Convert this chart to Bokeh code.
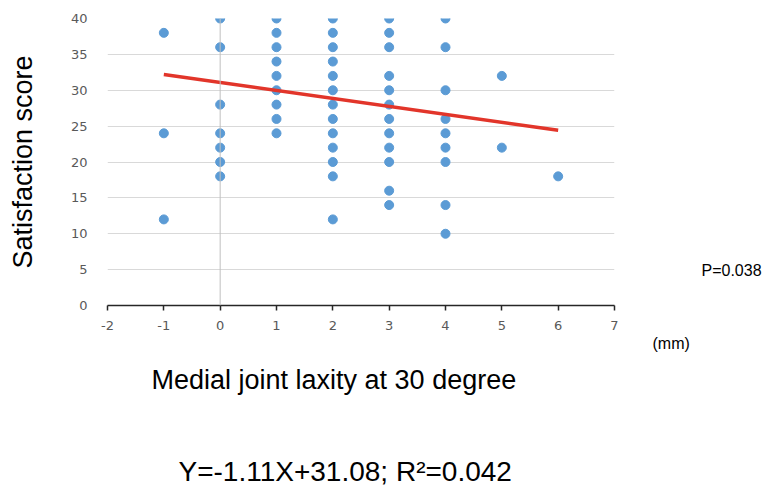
import math
from bokeh.plotting import figure
from bokeh.models import Range1d, Span, FixedTicker, ColumnDataSource, Title, LinearAxis
from bokeh.embed import file_html
from bokeh.resources import INLINE

# ---- data ----
laxity_mm = (
    [-1, -1, -1]
    + [0] * 7
    + [1] * 9
    + [2] * 13
    + [3] * 12
    + [4] * 9
    + [5, 5]
    + [6]
)
satisfaction = (
    [38, 24, 12]
    + [40, 36, 28, 24, 22, 20, 18]
    + [40, 38, 36, 34, 32, 30, 28, 26, 24]
    + [40, 38, 36, 34, 32, 30, 28, 26, 24, 22, 20, 18, 12]
    + [40, 38, 36, 32, 30, 28, 26, 24, 22, 20, 16, 14]
    + [40, 36, 30, 26, 24, 22, 20, 14, 10]
    + [32, 22]
    + [18]
)
slope = -1.11
intercept = 31.08
trend_x = [-1, 6]
trend_y = [slope * x + intercept for x in trend_x]

x_ticks = [-2, -1, 0, 1, 2, 3, 4, 5, 6, 7]
y_ticks = [0, 5, 10, 15, 20, 25, 30, 35, 40]
p_value_text = "P=0.038"
p_value_y = 4.9

# ---- figure ----
W, H = 768, 492
ML, MT = 107, 18
MR, MB = W - 614, H - 305
p = figure(width=W, height=H, output_backend="svg", toolbar_location=None,
           x_range=Range1d(-2, 7), y_range=Range1d(0, 40),
           min_border_left=ML, min_border_right=MR,
           min_border_top=MT, min_border_bottom=MB)
p.outline_line_color = None
p.background_fill_color = "white"
p.border_fill_color = "white"

FONT = "Liberation Sans"
TICK_FONT = "DejaVu Sans"

# grid
p.xgrid.grid_line_color = None
p.ygrid.ticker = FixedTicker(ticks=y_ticks)
p.ygrid.grid_line_color = "#d9d9d9"
p.ygrid.grid_line_width = 1

# x axis
xa = p.xaxis[0]
xa.ticker = FixedTicker(ticks=x_ticks)
xa.major_label_overrides = {t: str(t) for t in x_ticks}
xa.axis_line_color = "#262626"
xa.axis_line_width = 1.5
xa.major_tick_line_color = "#262626"
xa.major_tick_line_width = 1.5
xa.major_tick_out = 5
xa.major_tick_in = 0
xa.minor_tick_line_color = None
xa.major_label_text_font = TICK_FONT
xa.major_label_text_font_size = "13px"
xa.major_label_text_color = "#595959"
xa.major_label_standoff = 10

# y axis
ya = p.yaxis[0]
ya.ticker = FixedTicker(ticks=y_ticks)
ya.axis_line_color = None
ya.major_tick_line_color = None
ya.minor_tick_line_color = None
ya.major_label_text_font = TICK_FONT
ya.major_label_text_font_size = "13px"
ya.major_label_text_color = "#595959"
ya.major_label_standoff = 14
ya.axis_label = "Satisfaction score"
ya.axis_label_text_font = FONT
ya.axis_label_text_font_size = "27px"
ya.axis_label_text_font_style = "normal"
ya.axis_label_text_color = "black"
ya.axis_label_standoff = 30

# right axis carrying the p-value note
ra = LinearAxis(ticker=FixedTicker(ticks=[p_value_y]),
                major_label_overrides={p_value_y: p_value_text})
ra.axis_line_color = None
ra.major_tick_line_color = None
ra.minor_tick_line_color = None
ra.major_label_text_font = FONT
ra.major_label_text_font_size = "16px"
ra.major_label_text_color = "black"
ra.major_label_standoff = 81
p.add_layout(ra, "right")

# vertical axis line at x = 0
p.add_layout(Span(location=0, dimension="height", line_color="#bfbfbf", line_width=1))

# points and trend line
src = ColumnDataSource(dict(x=laxity_mm, y=satisfaction))
p.scatter("x", "y", source=src, size=9, fill_color="#5b9bd5", line_color="#5b9bd5")
p.line(trend_x, trend_y, line_color="#e2352a", line_width=3.5)

# ---- titles below the plot ----
def make_title(text, size, offset, standoff):
    return Title(text=text, align="left", offset=offset, standoff=standoff,
                 text_font=FONT, text_font_size=size, text_font_style="normal",
                 text_color="black")

p.add_layout(make_title("(mm)", "16px", 545, 0), "below")
p.add_layout(make_title("Medial joint laxity at 30 degree", "27px", 44, 22), "below")
p.add_layout(make_title(" ", "10px", 0, 35), "below")  # vertical gap
p.add_layout(make_title("Y=-1.11X+31.08; R\u00b2=0.042", "28px", 71, 0), "below")

open("out.html", "w").write(file_html(p, INLINE))
